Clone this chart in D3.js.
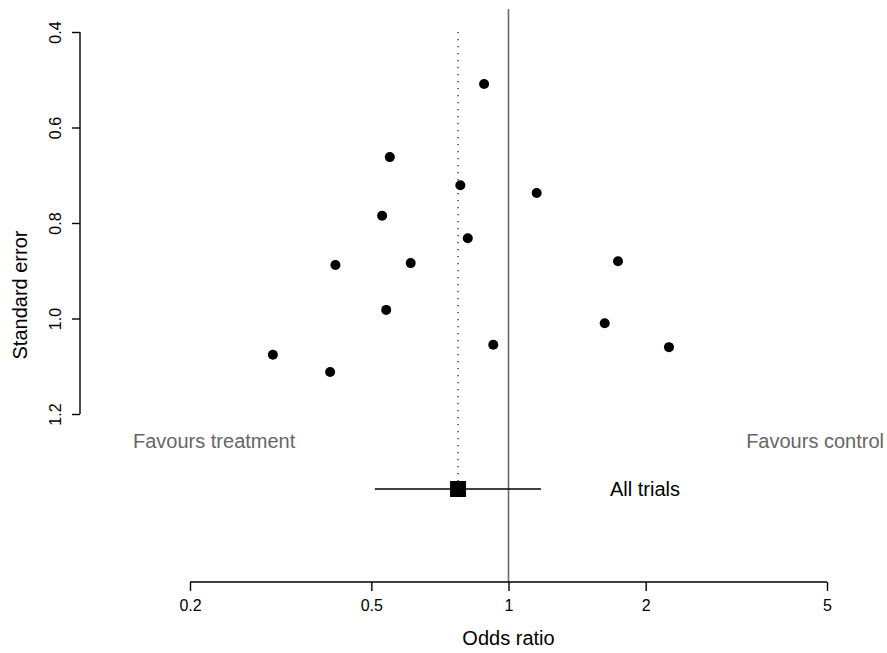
<!DOCTYPE html>
<html>
<head>
<meta charset="utf-8">
<script src="https://cdn.jsdelivr.net/npm/d3@7"></script>
<style>
  html, body { margin: 0; padding: 0; background: #fff; }
  svg { display: block; font-family: "Liberation Sans", Arial, Helvetica, sans-serif; }
</style>
</head>
<body>
<svg id="chart" width="887" height="653"></svg>
<script>
// Trial-level odds ratios and their standard errors
const trialOR = [0.884, 0.549, 0.784, 1.153, 0.528, 0.814, 0.417, 0.610, 1.739, 0.539, 1.626, 0.926, 2.250, 0.304, 0.406];
const trialSE = [0.509, 0.662, 0.721, 0.737, 0.785, 0.832, 0.888, 0.884, 0.880, 0.982, 1.010, 1.055, 1.060, 1.076, 1.112];

// Pooled estimate with 95% confidence interval
const pooledOR = [0.775];
const pooledLower = [0.509];
const pooledUpper = [1.178];
const pooledLabel = ["All trials"];

// Axis ticks and labels
const xTicks = [0.2, 0.5, 1, 2, 5];
const yTicks = [0.4, 0.6, 0.8, 1.0, 1.2];
const sideLabels = ["Favours treatment", "Favours control"];

const svg = d3.select("#chart");

const x = d3.scaleLog().domain([0.2, 5]).range([190, 827]);
const y = d3.scaleLinear().domain([0.4, 1.2]).range([32, 414]);

const plotTop = 9, plotBottom = 582;
const pooledY = 489;

// Null-effect reference line
svg.append("line")
  .attr("x1", x(1)).attr("x2", x(1))
  .attr("y1", plotTop).attr("y2", plotBottom)
  .attr("stroke", "#6a6a6a").attr("stroke-width", 1.6);

// Dotted line at the pooled estimate
svg.append("line")
  .attr("x1", x(pooledOR[0])).attr("x2", x(pooledOR[0]))
  .attr("y1", y(0.4)).attr("y2", pooledY - 8)
  .attr("stroke", "#000").attr("stroke-width", 1.1)
  .attr("stroke-dasharray", "1.2,5.8");

// Trial points
svg.append("g").selectAll("circle")
  .data(trialOR.map((d, i) => ({ or: d, se: trialSE[i] })))
  .join("circle")
  .attr("cx", d => x(d.or))
  .attr("cy", d => y(d.se))
  .attr("r", 5)
  .attr("fill", "#000");

// Pooled estimate: CI line and square
svg.append("line")
  .attr("x1", x(pooledLower[0])).attr("x2", x(pooledUpper[0]))
  .attr("y1", pooledY).attr("y2", pooledY)
  .attr("stroke", "#000").attr("stroke-width", 1.4);
svg.append("rect")
  .attr("x", x(pooledOR[0]) - 8).attr("y", pooledY - 8)
  .attr("width", 16).attr("height", 16)
  .attr("fill", "#000");
svg.append("text")
  .attr("x", 610).attr("y", pooledY + 7)
  .attr("font-size", 20).attr("fill", "#000")
  .text(pooledLabel[0]);

// Side labels
svg.append("text")
  .attr("x", 133).attr("y", 448)
  .attr("font-size", 20).attr("fill", "#666")
  .text(sideLabels[0]);
svg.append("text")
  .attr("x", 884).attr("y", 448)
  .attr("text-anchor", "end")
  .attr("font-size", 20).attr("fill", "#666")
  .text(sideLabels[1]);

// X axis
const xAxis = svg.append("g")
  .attr("transform", `translate(0,${plotBottom})`)
  .call(d3.axisBottom(x).tickValues(xTicks).tickFormat(d3.format("")).tickSize(9).tickPadding(5));
xAxis.select(".domain").attr("stroke-width", 1.4).attr("d", `M${x(0.2)},0H${x(5)}`);
xAxis.selectAll(".tick line").attr("stroke-width", 1.4);
xAxis.selectAll(".tick text").attr("font-size", 16).attr("font-family", "Liberation Sans, Arial, sans-serif").attr("dy", "0.95em");

// Y axis
const yAxis = svg.append("g")
  .attr("transform", "translate(80,0)")
  .call(d3.axisLeft(y).tickValues(yTicks).tickFormat(d3.format(".1f")).tickSize(8));
yAxis.select(".domain").attr("stroke-width", 1.4).attr("d", `M0,${y(0.4)}V${y(1.2)}`);
yAxis.selectAll(".tick line").attr("stroke-width", 1.4);
yAxis.selectAll(".tick text")
  .attr("font-size", 16).attr("font-family", "Liberation Sans, Arial, sans-serif")
  .attr("x", 0).attr("dy", 0)
  .attr("text-anchor", "middle")
  .attr("transform", "translate(-19,0) rotate(-90)");

// Axis titles
svg.append("text")
  .attr("x", x(1)).attr("y", 645)
  .attr("text-anchor", "middle").attr("font-size", 20)
  .text("Odds ratio");
svg.append("text")
  .attr("transform", "translate(27,295) rotate(-90)")
  .attr("text-anchor", "middle").attr("font-size", 20)
  .text("Standard error");
</script>
</body>
</html>
